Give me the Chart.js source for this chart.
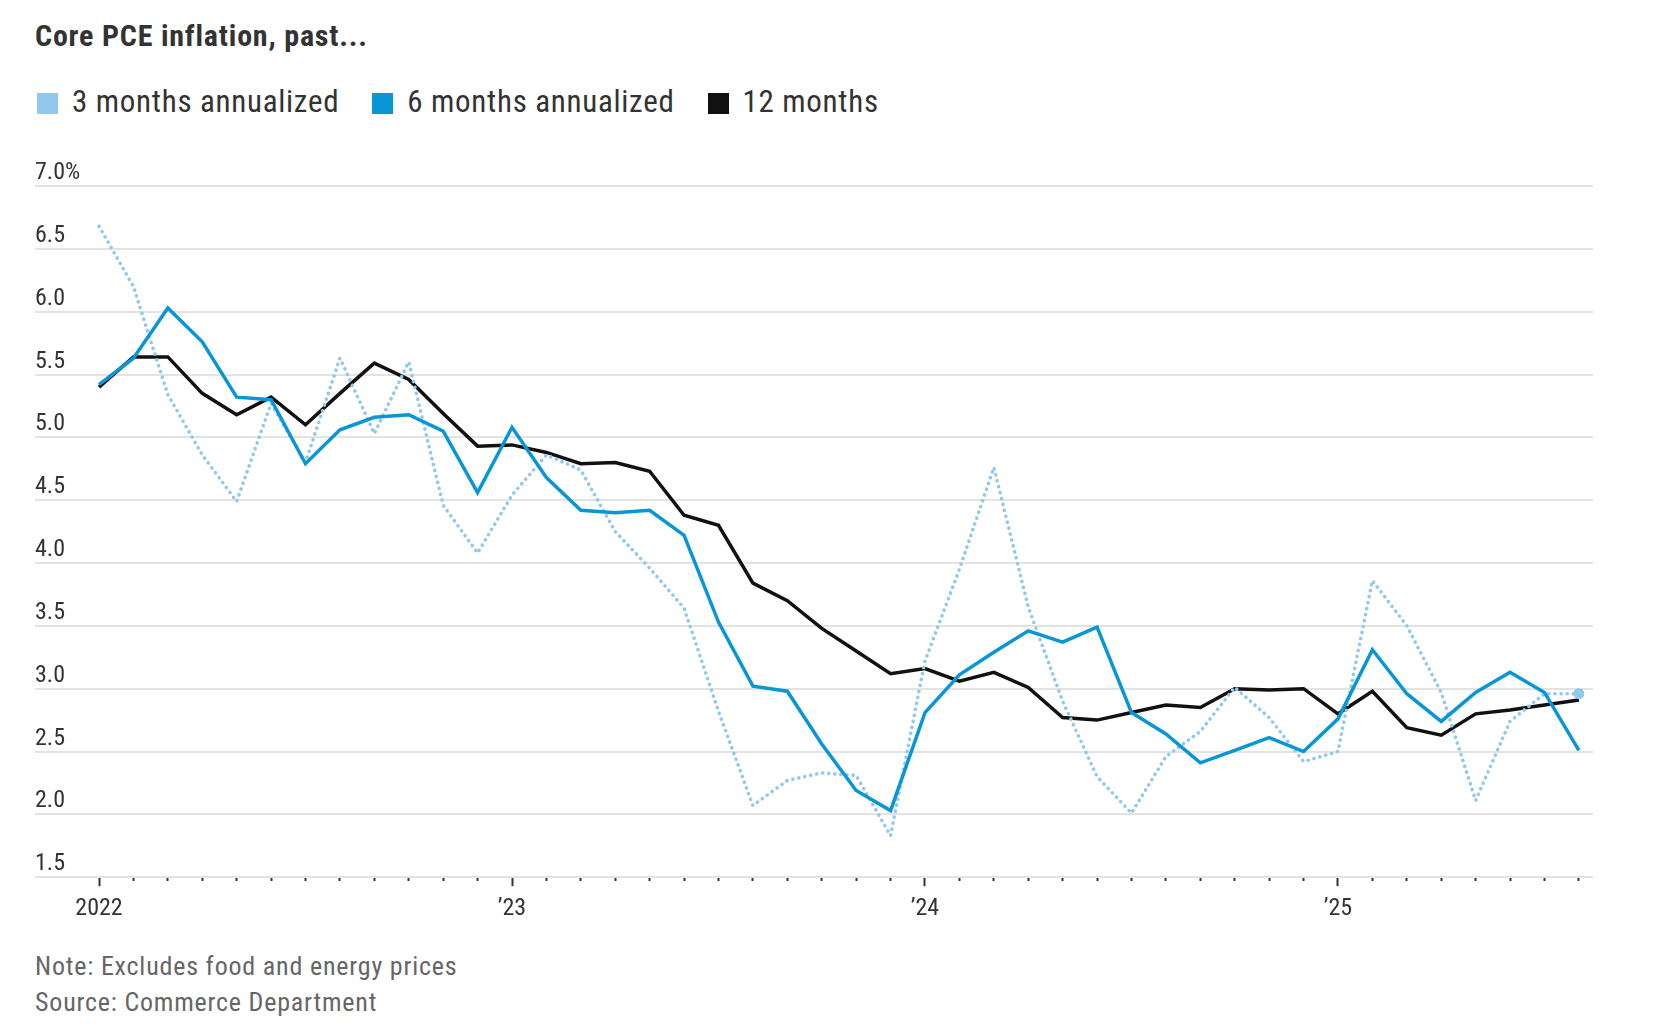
<!DOCTYPE html>
<html>
<head>
<meta charset="utf-8">
<script src="https://cdn.jsdelivr.net/npm/chart.js@4.4.1/dist/chart.umd.min.js"></script>
<style>
  html, body { margin: 0; padding: 0; background: #fff; }
  body { width: 1656px; height: 1030px; position: relative; overflow: hidden;
         font-family: "Liberation Sans Narrow", "Roboto Condensed", "Liberation Sans", sans-serif; color: #333; }
  #title { position: absolute; left: 35px; top: 19px; font-size: 30px; line-height: 34px; font-weight: bold;
           letter-spacing: 0.8px; color: #333; }
  #legend { position: absolute; left: 37px; top: 84px; font-size: 31px; line-height: 36px; white-space: nowrap;
            letter-spacing: 0.7px; }
  #legend span.item { display: inline-block; margin-right: 33px; }
  #legend i { display: inline-block; width: 21px; height: 21px; margin-right: 14px; vertical-align: -2px; }
  #wrap { position: absolute; left: 0; top: 140px; width: 1656px; height: 800px; }
  .note { position: absolute; left: 35px; font-size: 26px; line-height: 36px; color: #666; letter-spacing: 0.8px; }
</style>
</head>
<body>
<div id="title">Core PCE inflation, past...</div>
<div id="legend"></div>
<div id="wrap"><canvas id="chart"></canvas></div>
<div class="note" style="top:948px">Note: Excludes food and energy prices</div>
<div class="note" style="top:984px">Source: Commerce Department</div>

<script>
/* ================================
   DATA (Jan 2022 – Aug 2025, monthly)
================================ */

const months = [
  "Jan 2022", "Feb 2022", "Mar 2022", "Apr 2022", "May 2022", "Jun 2022",
  "Jul 2022", "Aug 2022", "Sep 2022", "Oct 2022", "Nov 2022", "Dec 2022",
  "Jan 2023", "Feb 2023", "Mar 2023", "Apr 2023", "May 2023", "Jun 2023",
  "Jul 2023", "Aug 2023", "Sep 2023", "Oct 2023", "Nov 2023", "Dec 2023",
  "Jan 2024", "Feb 2024", "Mar 2024", "Apr 2024", "May 2024", "Jun 2024",
  "Jul 2024", "Aug 2024", "Sep 2024", "Oct 2024", "Nov 2024", "Dec 2024",
  "Jan 2025", "Feb 2025", "Mar 2025", "Apr 2025", "May 2025", "Jun 2025",
  "Jul 2025", "Aug 2025"
];

const yearLabels = ["2022", "\u201923", "\u201924", "\u201925"];

const threeMonth = [
  6.68, 6.20, 5.34, 4.86, 4.49, 5.27, 4.80, 5.63, 5.03, 5.60, 4.46, 4.08,
  4.54, 4.86, 4.74, 4.25, 3.96, 3.64, 2.82, 2.07, 2.27, 2.33, 2.31, 1.83,
  3.22, 3.95, 4.76, 3.65, 2.90, 2.30, 2.01, 2.46, 2.66, 3.01, 2.77, 2.42,
  2.50, 3.86, 3.50, 2.97, 2.11, 2.74, 2.96, 2.96
];

const sixMonth = [
  5.42, 5.63, 6.03, 5.76, 5.32, 5.30, 4.79, 5.06, 5.16, 5.18, 5.05, 4.56,
  5.08, 4.68, 4.42, 4.40, 4.42, 4.22, 3.53, 3.02, 2.98, 2.56, 2.19, 2.03,
  2.81, 3.11, 3.29, 3.46, 3.37, 3.49, 2.81, 2.64, 2.41, 2.51, 2.61, 2.50,
  2.76, 3.31, 2.96, 2.74, 2.97, 3.13, 2.97, 2.51
];

const twelveMonth = [
  5.40, 5.64, 5.64, 5.35, 5.18, 5.32, 5.10, 5.35, 5.59, 5.46, 5.19, 4.93,
  4.94, 4.88, 4.79, 4.80, 4.73, 4.38, 4.30, 3.84, 3.70, 3.48, 3.30, 3.12,
  3.16, 3.06, 3.13, 3.01, 2.77, 2.75, 2.81, 2.87, 2.85, 3.00, 2.99, 3.00,
  2.80, 2.98, 2.69, 2.63, 2.80, 2.83, 2.87, 2.91
];

const SERIES = [
  { label: "3 months annualized", data: threeMonth, color: "#92c8ed" },
  { label: "6 months annualized", data: sixMonth, color: "#0896d7" },
  { label: "12 months", data: twelveMonth, color: "#111111" }
];

/* ================================
   LEGEND
================================ */

document.getElementById("legend").innerHTML = SERIES.map(s =>
  `<span class="item"><i style="background:${s.color}"></i>${s.label}</span>`
).join("");

/* ================================
   CHART
================================ */

const FONT = "'Liberation Sans Narrow', 'Roboto Condensed', 'Liberation Sans', sans-serif";
const toXY = arr => arr.map((v, i) => ({ x: i, y: v }));
const last = months.length - 1;

new Chart(document.getElementById("chart"), {
  type: "line",
  data: {
    datasets: [
      {
        label: SERIES[0].label,
        data: toXY(threeMonth),
        borderColor: SERIES[0].color,
        backgroundColor: SERIES[0].color,
        borderWidth: 3.6,
        borderDash: [0.1, 6],
        borderCapStyle: "round",
        pointRadius: ctx => ctx.dataIndex === last ? 5.5 : 0,
        pointBorderWidth: 0,
        order: 1
      },
      {
        label: SERIES[1].label,
        data: toXY(sixMonth),
        borderColor: SERIES[1].color,
        borderWidth: 3.5,
        pointRadius: 0,
        order: 0
      },
      {
        label: SERIES[2].label,
        data: toXY(twelveMonth),
        borderColor: SERIES[2].color,
        borderWidth: 3.5,
        pointRadius: 0,
        order: 2
      }
    ]
  },
  options: {
    responsive: true,
    maintainAspectRatio: false,
    animation: false,
    layout: { padding: { left: 35, right: 63, top: 46, bottom: 9 } },
    plugins: { legend: { display: false }, tooltip: { enabled: false } },
    elements: { line: { tension: 0 } },
    scales: {
      x: {
        type: "linear",
        min: -1.86,
        max: 43.41,
        afterBuildTicks: axis => { axis.ticks = months.map((m, i) => ({ value: i })); },
        border: { display: false },
        grid: {
          display: true,
          drawOnChartArea: false,
          drawTicks: true,
          tickLength: 9,
          tickWidth: 2,
          tickColor: "#333",
          tickBorderDash: ctx => (ctx.tick && ctx.tick.value % 12 === 0) ? [] : [4, 40]
        },
        ticks: {
          autoSkip: false,
          maxRotation: 0,
          padding: 8,
          color: "#333",
          font: { family: FONT, size: 24 },
          callback: v => v % 12 === 0 ? yearLabels[v / 12] : ""
        }
      },
      y: {
        min: 1.5,
        max: 7.0,
        border: { display: false },
        grid: { color: "#e3e3e3", lineWidth: 2, drawTicks: false },
        ticks: {
          stepSize: 0.5,
          mirror: true,
          padding: 0,
          labelOffset: -13,
          color: "#333",
          font: { family: FONT, size: 24 },
          callback: v => v === 7 ? "7.0%" : v.toFixed(1)
        }
      }
    }
  }
});
</script>
</body>
</html>
